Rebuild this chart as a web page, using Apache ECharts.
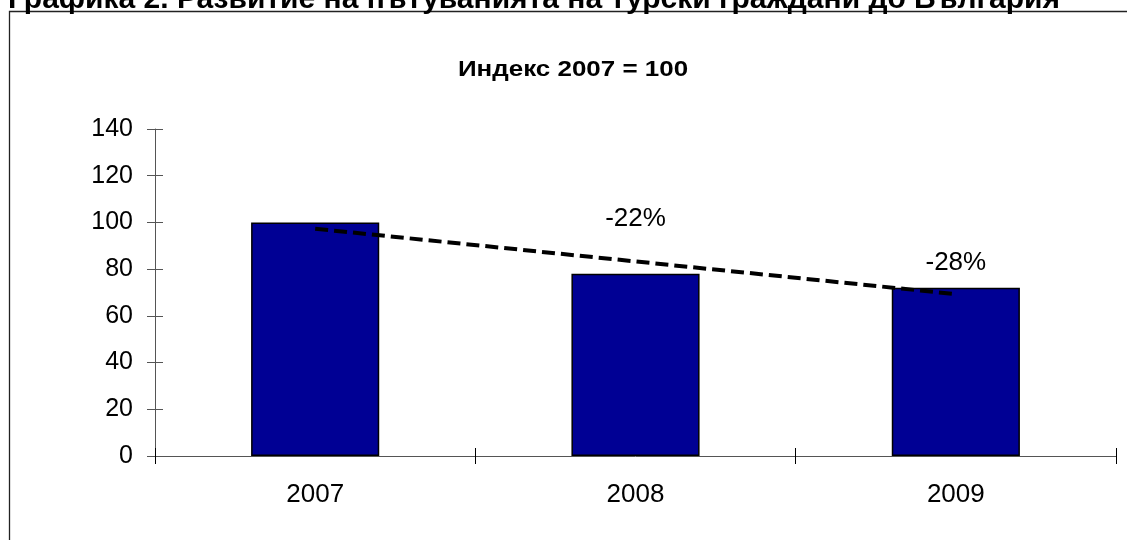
<!DOCTYPE html>
<html>
<head>
<meta charset="utf-8">
<script src="https://cdn.jsdelivr.net/npm/echarts@6/dist/echarts.min.js"></script>
<style>
  html, body { margin: 0; padding: 0; background: #ffffff; }
  #chart { width: 1127px; height: 540px; }
</style>
</head>
<body>
<div id="chart"></div>
<script>
// Index of trips by Turkish citizens to Bulgaria, 2007 = 100
const years = ['2007', '2008', '2009'];
const indexValues = [100, 78, 72];
const changeLabels = ['', '-22%', '-28%'];
const labelGaps = [0, 42, 12];
const trendValues = [97.3, 83.3, 69.3];
const yMin = 0, yMax = 140, yStep = 20;

const FONT = '"Liberation Sans", Arial, sans-serif';
const AXIS_COLOR = '#555555';

const chart = echarts.init(document.getElementById('chart'), null, { renderer: 'canvas' });

const barData = indexValues.map((v, i) => ({
  value: v,
  label: {
    show: changeLabels[i] !== '',
    position: 'top',
    distance: labelGaps[i],
    formatter: changeLabels[i],
    fontFamily: FONT,
    fontSize: 26,
    color: '#000000'
  }
}));

const yAxisBase = {
  type: 'value',
  min: yMin,
  max: yMax,
  interval: yStep,
  splitLine: { show: false },
  axisLine: { show: true, lineStyle: { color: AXIS_COLOR, width: 1 } }
};

const option = {
  backgroundColor: '#ffffff',
  animation: false,
  grid: { left: 155, right: 11, top: 129, bottom: 84, containLabel: false },
  graphic: [
    {
      type: 'rect',
      shape: { x: 9.5, y: 11.5, width: 1200, height: 600 },
      style: { fill: 'none', stroke: '#222222', lineWidth: 1.3 },
      silent: true
    },
    {
      type: 'text',
      x: 8, y: 0,
      style: {
        text: 'Графика 2. Развитие на пътуванията на турски граждани до България',
        font: 'bold 30px ' + FONT,
        fill: '#000000',
        textAlign: 'left',
        textVerticalAlign: 'middle'
      },
      silent: true
    },
    {
      type: 'text',
      x: 573, y: 70,
      scaleX: 1.18,
      style: {
        text: 'Индекс 2007 = 100',
        font: 'bold 22px ' + FONT,
        fill: '#000000',
        textAlign: 'center',
        textVerticalAlign: 'middle'
      },
      silent: true
    }
  ],
  xAxis: [
    {
      type: 'category',
      data: years,
      position: 'bottom',
      axisLine: { show: true, lineStyle: { color: AXIS_COLOR, width: 1 } },
      axisTick: { show: true, inside: false, length: 8, lineStyle: { color: '#000000' } },
      axisLabel: { fontFamily: FONT, fontSize: 26, color: '#000000', margin: 26 }
    },
    {
      type: 'category',
      data: years,
      position: 'bottom',
      axisLine: { show: false },
      axisTick: { show: true, inside: true, length: 8, lineStyle: { color: '#000000' } },
      axisLabel: { show: false }
    }
  ],
  yAxis: [
    Object.assign({}, yAxisBase, {
      axisTick: { show: true, inside: false, length: 8, lineStyle: { color: AXIS_COLOR } },
      axisLabel: { fontFamily: FONT, fontSize: 25, color: '#000000', margin: 22 }
    }),
    Object.assign({}, yAxisBase, {
      position: 'left',
      axisLine: { show: false },
      axisTick: { show: true, inside: true, length: 8, lineStyle: { color: AXIS_COLOR } },
      axisLabel: { show: false }
    })
  ],
  series: [
    {
      name: 'Индекс',
      type: 'bar',
      data: barData,
      barWidth: '40%',
      itemStyle: { color: '#000094', borderColor: '#000000', borderWidth: 1.5 },
      z: 2
    },
    {
      name: 'Тренд',
      type: 'line',
      data: trendValues,
      symbol: 'none',
      lineStyle: { color: '#000000', width: 4, type: [13, 6] },
      z: 3
    }
  ]
};

chart.setOption(option);
</script>
</body>
</html>
